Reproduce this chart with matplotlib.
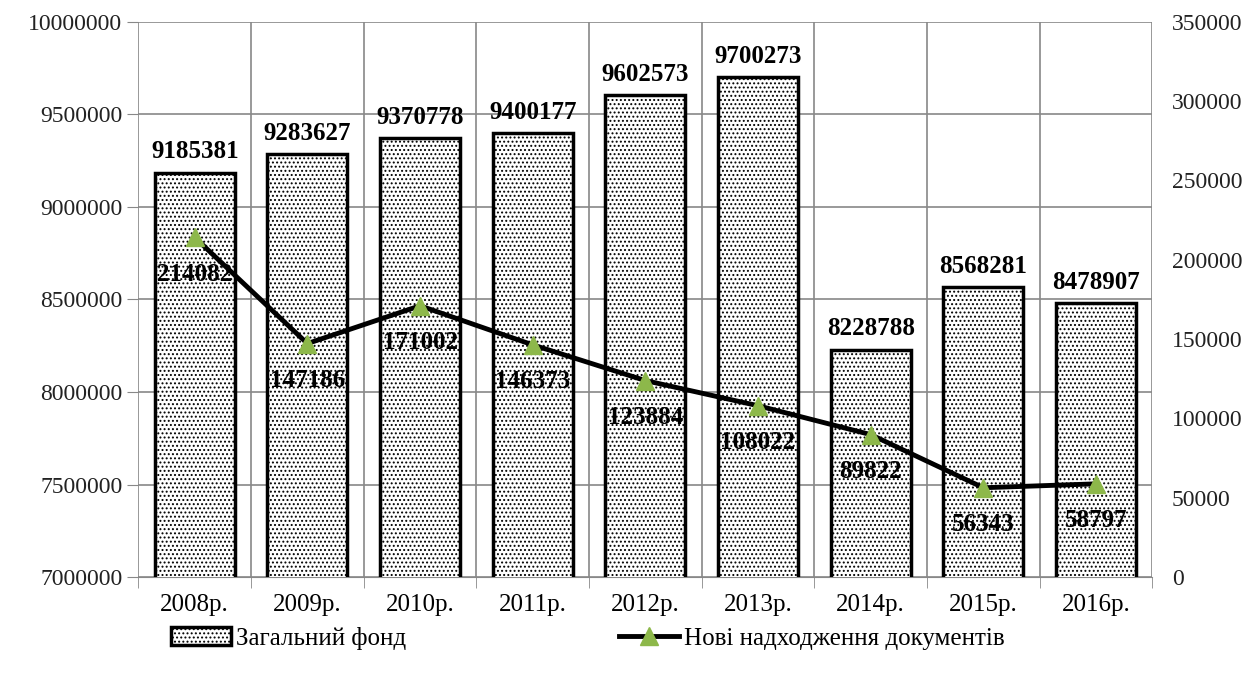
import numpy as np
import matplotlib
matplotlib.use("Agg")
import matplotlib.pyplot as plt
from matplotlib.ticker import FixedLocator, StrMethodFormatter

plt.rcParams['font.family'] = ['Liberation Serif', 'DejaVu Serif']
plt.rcParams['hatch.linewidth'] = 0.9

years = ['2008р.', '2009р.', '2010р.', '2011р.', '2012р.', '2013р.', '2014р.', '2015р.', '2016р.']
fond = [9185381, 9283627, 9370778, 9400177, 9602573, 9700273, 8228788, 8568281, 8478907]
new_docs = [214082, 147186, 171002, 146373, 123884, 108022, 89822, 56343, 58797]

x = np.arange(len(years))

fig = plt.figure(figsize=(12.58, 6.79), dpi=100)
ax = fig.add_axes([0.110, 0.150, 0.806, 0.818])
ax2 = ax.twinx()

# стовпчики - загальний фонд
ax.bar(x, fond, width=0.71, color='white', edgecolor='black', linewidth=2.5,
       hatch='....', zorder=3, label='Загальний фонд')
ax.set_ylim(7000000, 10000000)
ax.set_yticks(np.arange(7000000, 10000001, 500000))
ax.yaxis.set_major_formatter(StrMethodFormatter('{x:.0f}'))
ax.set_xlim(-0.5, len(years) - 0.5)
ax.set_xticks(x)
ax.set_xticklabels(years)
ax.xaxis.set_minor_locator(FixedLocator(np.arange(-0.5, len(years), 1)))
ax.tick_params(axis='x', which='major', length=0, labelsize=18, pad=12)
ax.tick_params(axis='x', which='minor', length=8, color='#888888')
ax.tick_params(axis='y', length=8, color='#888888', labelsize=17, labelcolor='#222222')
ax.grid(axis='y', color='#888888', linewidth=1.2, zorder=0)
ax.grid(axis='x', which='minor', color='#888888', linewidth=1.2, zorder=0)
for s in ['top', 'right', 'left']:
    ax.spines[s].set_visible(False)
ax.spines['bottom'].set_color('#888888')

for xi, v in zip(x, fond):
    ax.text(xi, v + 50000, str(v), ha='center', va='bottom', fontsize=18,
            fontweight='bold', zorder=5)

# лінія - нові надходження
ax2.plot(x, new_docs, color='black', linewidth=3.5, marker='^', markersize=13,
         markerfacecolor='#8db84a', markeredgecolor='#8db84a', zorder=4,
         label='Нові надходження документів')
ax2.set_ylim(0, 350000)
ax2.set_yticks(np.arange(0, 350001, 50000))
ax2.tick_params(axis='y', length=0, labelsize=17, labelcolor='#222222', pad=14)
for s in ax2.spines.values():
    s.set_visible(False)

for xi, v in zip(x, new_docs):
    ax2.text(xi, v - 16000, str(v), ha='center', va='top', fontsize=18,
             fontweight='bold', zorder=6)

h1, l1 = ax.get_legend_handles_labels()
h2, l2 = ax2.get_legend_handles_labels()
fig.legend(h1 + h2, l1 + l2, loc='lower left', bbox_to_anchor=(0.118, 0.01),
           ncol=2, frameon=False, fontsize=18, columnspacing=8.5,
           handlelength=2.4, handletextpad=0.2)

fig.savefig('out.png', dpi=100)
